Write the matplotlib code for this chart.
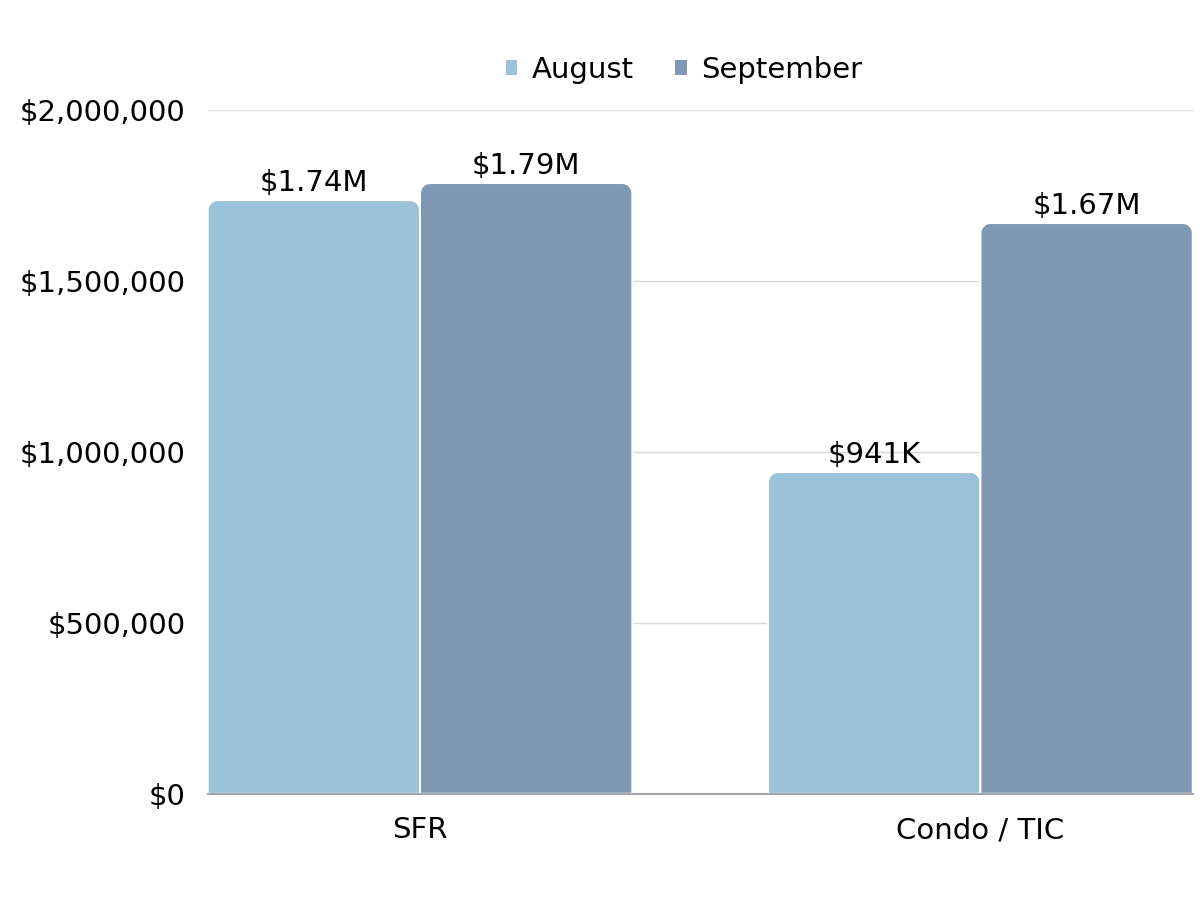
import numpy as np
import matplotlib.pyplot as plt
from matplotlib.path import Path
from matplotlib.patches import PathPatch, Patch
from matplotlib.ticker import FuncFormatter

# Dados
categorias = ['SFR', 'Condo / TIC']
series = ['August', 'September']
agosto = [1736000, 941000]
setembro = [1786000, 1669000]
cores = ['#9BC2D8', '#7F98B4']

plt.rcParams['font.family'] = ['DejaVu Sans']

fig = plt.figure(figsize=(12, 9), dpi=100)
ax = fig.add_axes([0.173, 0.118, 0.821, 0.760])

largura = 0.379
x = np.arange(len(categorias))
ax.set_xlim(-largura, len(categorias) - 1 + largura)
ax.set_ylim(0, 2000000)

# raio dos cantos em pixels -> unidades de dados
raio_px = 10
px_x = (ax.get_xlim()[1] - ax.get_xlim()[0]) / (0.821 * 1200)
px_y = (ax.get_ylim()[1] - ax.get_ylim()[0]) / (0.760 * 900)
rx, ry = raio_px * px_x, raio_px * px_y
k = 0.5523


def barra_arredondada(x0, x1, h, cor):
    verts = [
        (x0, 0), (x0, h - ry),
        (x0, h - ry + k * ry), (x0 + rx - k * rx, h), (x0 + rx, h),
        (x1 - rx, h),
        (x1 - rx + k * rx, h), (x1, h - ry + k * ry), (x1, h - ry),
        (x1, 0), (x0, 0),
    ]
    codes = [Path.MOVETO, Path.LINETO,
             Path.CURVE4, Path.CURVE4, Path.CURVE4,
             Path.LINETO,
             Path.CURVE4, Path.CURVE4, Path.CURVE4,
             Path.LINETO, Path.CLOSEPOLY]
    ax.add_patch(PathPatch(Path(verts, codes), facecolor=cor,
                           edgecolor='white', linewidth=1.5, zorder=3))


def rotulo(v):
    if v >= 1e6:
        return f'${v / 1e6:.2f}M'
    return f'${v / 1e3:.0f}K'


for i, valores in enumerate([agosto, setembro]):
    for j, v in enumerate(valores):
        x0 = x[j] - largura + i * largura
        barra_arredondada(x0, x0 + largura, v, cores[i])
        ax.annotate(rotulo(v), (x0 + largura / 2, v), xytext=(0, 2),
                    textcoords='offset points', ha='center', va='bottom',
                    fontsize=21, color='black', zorder=4)

ax.set_xticks(x)
ax.set_xticklabels(categorias)
ax.set_yticks(np.arange(0, 2000001, 500000))
ax.yaxis.set_major_formatter(FuncFormatter(lambda v, p: f'${v:,.0f}'))
ax.tick_params(axis='both', length=0, labelsize=21, colors='black')
ax.tick_params(axis='x', pad=16)
ax.tick_params(axis='y', pad=16)

ax.grid(axis='y', color='#D9D9D9', linewidth=1, zorder=0)
ax.set_axisbelow(True)
for lado in ['top', 'right', 'left']:
    ax.spines[lado].set_visible(False)
ax.spines['bottom'].set_color('#A6A6A6')
ax.spines['bottom'].set_linewidth(1.5)
ax.spines['bottom'].set_zorder(5)

handles = [Patch(facecolor=c, edgecolor='none') for c in cores]
fig.legend(handles, series, loc='center', bbox_to_anchor=(0.57, 0.922),
           ncol=2, frameon=False, fontsize=21, handlelength=0.4,
           handleheight=0.4, handletextpad=0.5, columnspacing=1.4)

fig.savefig('out.png', dpi=100)
